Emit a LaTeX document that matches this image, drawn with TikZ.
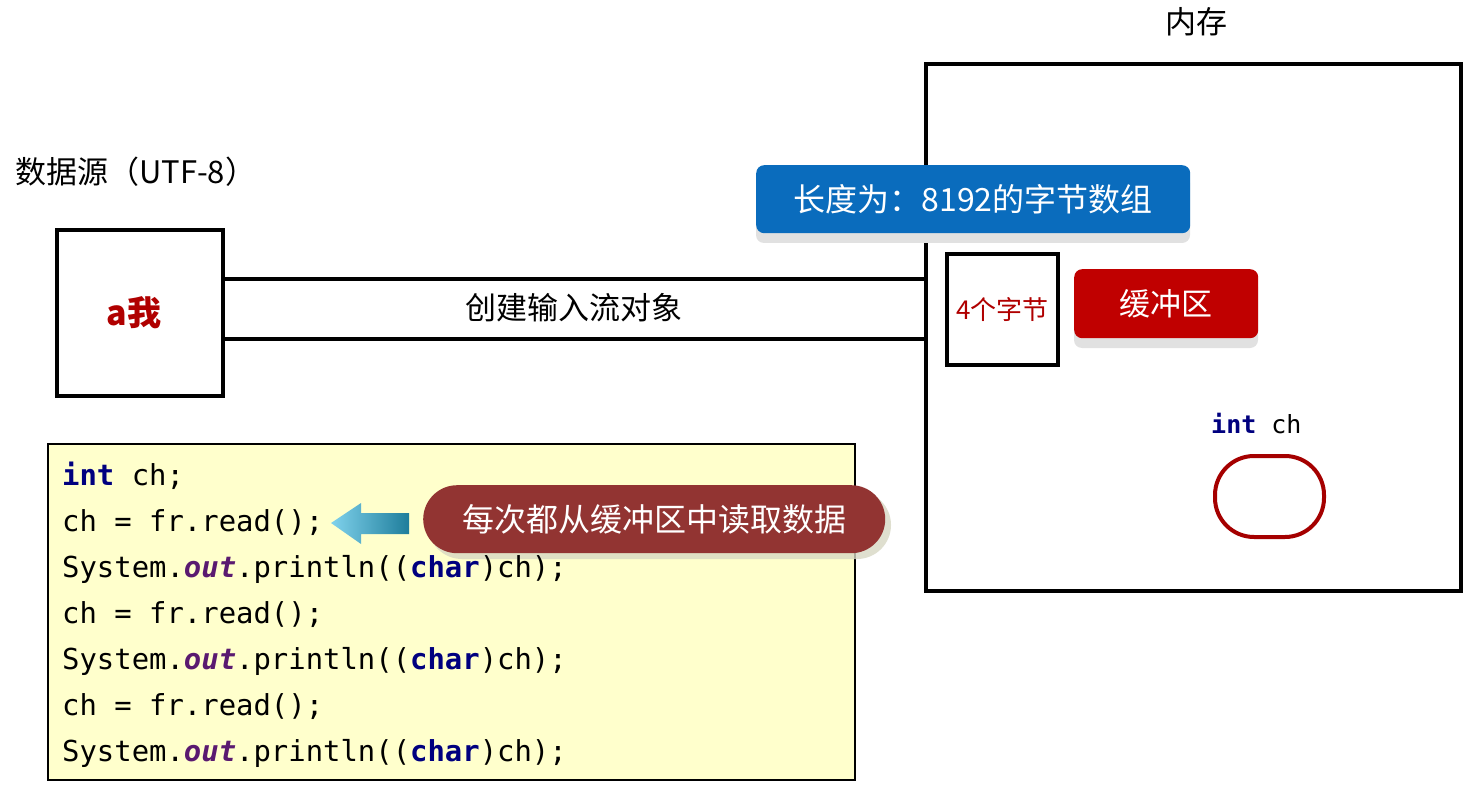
\documentclass[tikz,border=0pt]{standalone}
\usepackage{fontspec}
\setmainfont{Noto Sans CJK SC}
\newfontfamily\cjk{Noto Sans CJK SC}
\newfontfamily\codefont{DejaVu Sans Mono}
\definecolor{boxblue}{RGB}{10,108,189}
\definecolor{boxred}{RGB}{192,0,0}
\definecolor{pillred}{RGB}{146,52,50}
\definecolor{txtred}{RGB}{176,0,0}
\definecolor{kwnavy}{RGB}{0,0,127}
\definecolor{kwpurple}{RGB}{90,26,112}
\definecolor{codebg}{RGB}{255,255,204}
\definecolor{ovalred}{RGB}{165,0,0}
\definecolor{shadowgray}{RGB}{225,225,225}
\definecolor{pillshadow}{RGB}{215,215,195}
\definecolor{arrowlight}{RGB}{128,210,236}
\definecolor{arrowdark}{RGB}{30,125,155}
\newcommand{\kw}[1]{{\bfseries\color{kwnavy}#1}}
\newcommand{\fld}[1]{{\bfseries\itshape\color{kwpurple}#1}}
\tikzset{
  heavybox/.style={draw=black, line width=4pt, fill=white},
  cjktext/.style={font=\cjk\fontsize{31}{36}\selectfont, inner sep=0pt},
  codeline/.style={font=\codefont\fontsize{28.9}{34}\selectfont, anchor=base west, inner sep=0pt},
  labelbox/.style={rounded corners=8pt, text=white, font=\cjk\fontsize{32}{38}\selectfont, inner sep=0pt},
  boxshadow/.style={fill=shadowgray, rounded corners=8pt, draw=none},
}
\begin{document}
\begin{tikzpicture}[x=1pt,y=-1pt]
\useasboundingbox (0,0) rectangle (1471,791);
\fill[white] (0,0) rectangle (1471,791);

% memory box
\node[draw=black, line width=4pt, minimum width=535pt, minimum height=527pt, inner sep=0pt, anchor=north west] (mem) at (924,62) {};
\node[cjktext] (memlabel) at (1196,22) {内存};

% source
\node[cjktext, anchor=west] (srclabel) at (15,172) {数据源（UTF-8）};
\node[heavybox, minimum width=166pt, minimum height=166pt, inner sep=0pt, anchor=north west] (src) at (55,228) {};
\node[font=\cjk\bfseries\fontsize{34}{40}\selectfont, text=txtred, inner sep=0pt] (srctext) at ([xshift=-6pt]src.center) {a我};

% pipe
\coordinate (ptop) at (500,279);
\coordinate (pbot) at (500,339);
\draw[line width=4pt] (src.east |- ptop) -- (mem.west |- ptop);
\draw[line width=4pt] (src.east |- pbot) -- (mem.west |- pbot);
\node[cjktext] (pipelabel) at (574,308) {创建输入流对象};

% blue label
\fill[boxshadow] (756,175) rectangle (1190,243);
\node[labelbox, fill=boxblue, minimum width=434pt, minimum height=68pt, anchor=north west] (arr) at (756,165) {长度为：8192的字节数组};

% 4 bytes box
\node[heavybox, minimum width=111pt, minimum height=111pt, inner sep=0pt, anchor=north west] (four) at (945,252) {};
\node[font=\cjk\fontsize{26}{30}\selectfont, text=txtred, inner sep=0pt] (fourtext) at (four.center) {4个字节};

% buffer label
\fill[boxshadow] (1074,279) rectangle (1258,348);
\node[labelbox, fill=boxred, minimum width=184pt, minimum height=69pt, anchor=north west, font=\cjk\fontsize{31}{36}\selectfont] (buf) at (1074,269) {缓冲区};

% int ch variable
\node[font=\codefont\fontsize{25}{30}\selectfont, anchor=base west, inner sep=0pt] (varlabel) at (1211,433) {\kw{int} ch};
\node[draw=ovalred, line width=4pt, rounded corners=39pt, minimum width=109pt, minimum height=81pt, inner sep=0pt, anchor=north west] (var) at (1213,454) {};

% code box
\node[draw=black, line width=2pt, fill=codebg, minimum width=807pt, minimum height=336pt, inner sep=0pt, anchor=north west] (code) at (47,443) {};

% pill shadow
\fill[pillshadow, rounded corners=34pt, opacity=0.8] (428,491) rectangle (891,559);

\node[codeline] (c1) at (62,485) {\kw{int} ch;};
\node[codeline] (c2) at (62,531) {ch = fr.read();};
\node[codeline] (c3) at (62,577) {System.\fld{out}.println((\kw{char})ch);};
\node[codeline] (c4) at (62,623) {ch = fr.read();};
\node[codeline] (c5) at (62,669) {System.\fld{out}.println((\kw{char})ch);};
\node[codeline] (c6) at (62,715) {ch = fr.read();};
\node[codeline] (c7) at (62,761) {System.\fld{out}.println((\kw{char})ch);};

% arrow
\shade[left color=arrowlight, right color=arrowdark]
  (331,523) -- (361,503) -- (361,513) -- (409,513) -- (409,534) -- (361,534) -- (361,544) -- cycle;

% pill
\node[fill=pillred, rounded corners=34pt, minimum width=462pt, minimum height=68pt, text=white, font=\cjk\fontsize{32}{38}\selectfont, inner sep=0pt, anchor=north west] (pill) at (423,485) {每次都从缓冲区中读取数据};
\end{tikzpicture}
\end{document}
